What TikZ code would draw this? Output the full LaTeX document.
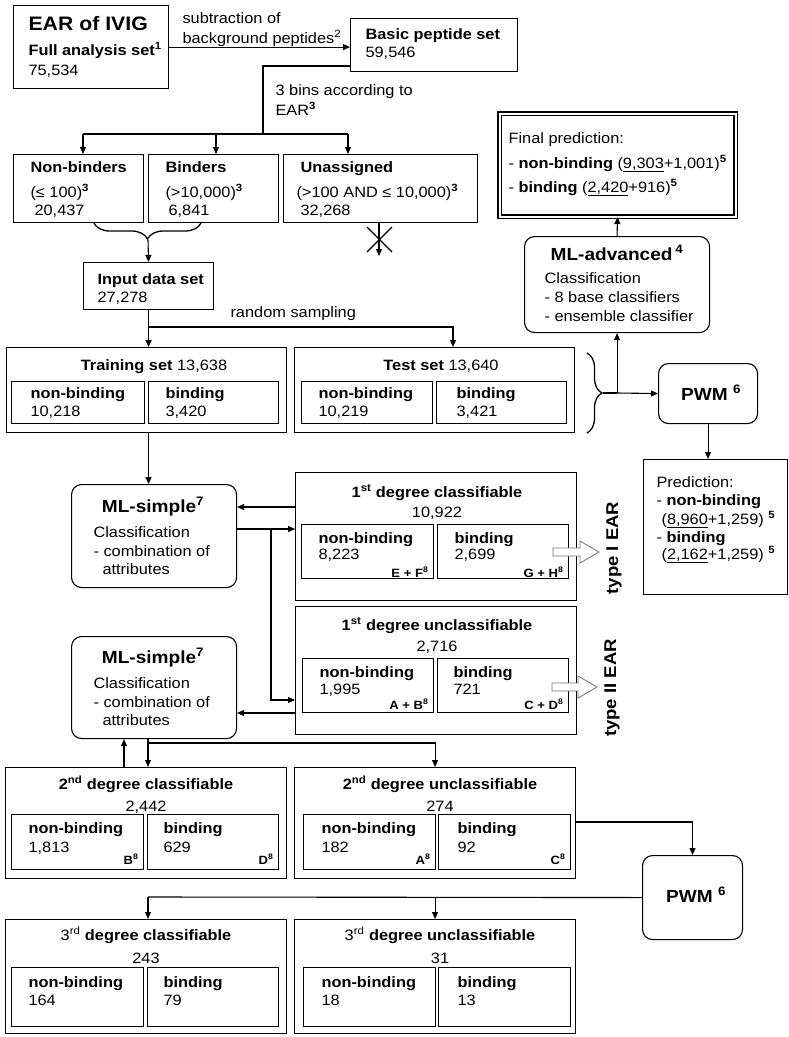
\documentclass[tikz,border=0pt]{standalone}
\usepackage{fontspec}
\setmainfont{Liberation Sans}[FakeStretch=1.09]
\usetikzlibrary{arrows.meta,decorations.pathreplacing}
\newcommand{\fn}[1]{\textsuperscript{\bfseries #1}}

\begin{document}
\begin{tikzpicture}[x=1pt, y=-1pt, line width=1.1pt,
  font=\fontsize{15}{18}\selectfont,
  box/.style={draw, inner sep=0pt, anchor=north west},
  rbox/.style={box, rounded corners=10pt},
  arr/.style={-{Triangle[length=7pt,width=6pt]}},
  txt/.style={inner sep=0pt, anchor=base west},
  ctxt/.style={inner sep=0pt, anchor=base},
  lab/.style={inner sep=0pt, anchor=base east, font=\fontsize{12}{14}\selectfont\bfseries},
  head/.style={inner sep=0pt, anchor=base, font=\fontsize{17.5}{20}\selectfont\bfseries},
  hollow/.style={draw=black!55, line width=0.8pt, fill=white},
  brc/.style={decorate, line width=1.3pt}]
\useasboundingbox (0,0) rectangle (789,1037);

% start: full set and basic set
\node[box, minimum width=155pt, minimum height=83pt] (ear) at (13,5) {};
\node[txt, font=\fontsize{19.5}{22}\selectfont\bfseries] (earT) at (28,30) {EAR of IVIG};
\node[txt] (earS) at (28,55) {\textbf{Full analysis set}\fn{1}};
\node[txt] (earN) at (28,75) {75,534};
\node[box, minimum width=167pt, minimum height=53pt] (basic) at (350,18) {};
\node[txt] (basicT) at (365,39) {\textbf{Basic peptide set}};
\node[txt] (basicN) at (365,57) {59,546};
\draw[arr] (ear.east) -- (ear.east -| basic.west);
\node[txt] (sub1) at (182,23) {subtraction of};
\node[txt] (sub2) at (182,43) {background peptides\textsuperscript{2}};

% three bins
\coordinate (sp) at (263,134);
\coordinate (a1) at (83,134);
\coordinate (a2) at (216,134);
\coordinate (a3) at (348,134);
\draw (basic.west |- 0,66) -| (sp);
\draw (a1) -- (a3);
\node[txt] (bins1) at (275,95) {3 bins according to};
\node[txt] (bins2) at (275,115) {EAR\fn{3}};
\node[box, minimum width=130pt, minimum height=68pt] (nonb) at (13,154) {};
\node[box, minimum width=130pt, minimum height=68pt] (bind) at (148,154) {};
\node[box, minimum width=194pt, minimum height=68pt] (unas) at (283,154) {};
\draw[arr] (a1) -- (a1 |- nonb.north);
\draw[arr] (a2) -- (a2 |- bind.north);
\draw[arr] (a3) -- (a3 |- unas.north);
\node[txt] (nonbT) at (30,172) {\textbf{Non-binders}};
\node[txt] (nonbR) at (30,197) {(≤ 100)\fn{3}};
\node[txt] (nonbN) at (34,215) {20,437};
\node[txt] (bindT) at (165,172) {\textbf{Binders}};
\node[txt] (bindR) at (165,197) {(>10,000)\fn{3}};
\node[txt] (bindN) at (168,215) {6,841};
\node[txt] (unasT) at (300,172) {\textbf{Unassigned}};
\node[txt] (unasR) at (296,197) {(>100 AND ≤ 10,000)\fn{3}};
\node[txt] (unasN) at (300,215) {32,268};

% merge and drop
\draw[brc, decoration={brace, mirror, amplitude=16pt}] (94,223) -- (201,223);
\coordinate (bt1) at (148,240);
\coordinate (xend) at (379,256);
\draw[arr] (unas.south -| xend) -- (xend);
\draw (367,227) -- (392,252);
\draw (392,227) -- (367,252);
\node[box, minimum width=130pt, minimum height=47pt] (input) at (83,262) {};
\draw[arr] (bt1) -- (input.north);
\node[txt] (inputT) at (97,284) {\textbf{Input data set}};
\node[txt] (inputN) at (97,302) {27,278};

% training and test
\node[box, minimum width=280pt, minimum height=85pt] (train) at (6,347) {};
\node[box, minimum width=133pt, minimum height=42pt] (trnb) at (11,381) {};
\node[box, minimum width=130pt, minimum height=42pt] (trb) at (148,381) {};
\node[box, minimum width=280pt, minimum height=85pt] (test) at (294,347) {};
\node[box, minimum width=131pt, minimum height=42pt] (tenb) at (301,381) {};
\node[box, minimum width=130pt, minimum height=42pt] (teb) at (436,381) {};
\coordinate (rs) at (148,327);
\draw[arr] (input.south) -- (input.south |- train.north);
\draw[arr] (rs) -| (test.north -| 453,0);
\node[txt] (rsL) at (230,317) {random sampling};
\node[ctxt] (trainT) at (154,370) {\textbf{Training set} 13,638};
\node[txt] (trnbT) at (30,398) {\textbf{non-binding}};
\node[txt] (trnbN) at (30,416) {10,218};
\node[txt] (trbT) at (165,398) {\textbf{binding}};
\node[txt] (trbN) at (165,416) {3,420};
\node[ctxt] (testT) at (441,370) {\textbf{Test set} 13,640};
\node[txt] (tenbT) at (318,398) {\textbf{non-binding}};
\node[txt] (tenbN) at (318,416) {10,219};
\node[txt] (tebT) at (456,398) {\textbf{binding}};
\node[txt] (tebN) at (456,416) {3,421};

% advanced branch
\node[box, double, double distance=2pt, minimum width=236pt, minimum height=103pt] (final) at (499,113) {};
\node[txt] (finalT) at (508,143) {Final prediction:};
\node[txt] (final1) at (508,168) {- \textbf{non-binding} (\underline{9,303}+1,001)\fn{5}};
\node[txt] (final2) at (508,192) {- \textbf{binding} (\underline{2,420}+916)\fn{5}};
\node[rbox, minimum width=185pt, minimum height=96pt] (mladv) at (524,236) {};
\node[head] (mladvT) at (617,260) {ML-advanced\,\fn{4}};
\node[txt] (mladv1) at (544,283) {Classification};
\node[txt] (mladv2) at (544,302) {- 8 base classifiers};
\node[txt] (mladv3) at (544,321) {- ensemble classifier};
\node[rbox, minimum width=99pt, minimum height=60pt] (pwmA) at (658,363) {};
\node[head] (pwmAT) at (711,400) {PWM \fn{6}};
\draw[brc, decoration={brace, amplitude=15pt}] (587,353) -- (587,433);
\coordinate (bt2) at (603,393);
\coordinate (fork) at (mladv.south |- bt2);
\draw (bt2) -- (fork);
\draw[arr] (fork) -- (pwmA.west);
\draw[arr] (fork) -- (mladv.south);
\draw[arr] (mladv.north) -- (final.south);
\node[box, minimum width=144pt, minimum height=135pt] (pred) at (643,459) {};
\draw[arr] (pwmA.south) -- (pwmA.south |- pred.north);
\node[txt] (predT) at (656,487) {Prediction:};
\node[txt] (pred1) at (656,505) {- \textbf{non-binding}};
\node[txt] (pred2) at (661,524) {(\underline{8,960}+1,259) \fn{5}};
\node[txt] (pred3) at (656,542) {- \textbf{binding}};
\node[txt] (pred4) at (661,559) {(\underline{2,162}+1,259) \fn{5}};

% first simple classification
\node[rbox, minimum width=165pt, minimum height=103pt] (mls1) at (71,484) {};
\node[head] (mls1T) at (153,512) {ML-simple\fn{7}};
\node[txt] (mls1a) at (93,537) {Classification};
\node[txt] (mls1b) at (93,556) {- combination of};
\node[txt] (mls1c) at (102,574) {attributes};
\draw[arr] (train.south -| input.south) -- (mls1.north -| input.south);
\node[box, minimum width=281pt, minimum height=128pt] (cls1) at (295,472) {};
\node[box, minimum width=132pt, minimum height=54pt] (c1nb) at (301,524) {};
\node[box, minimum width=131pt, minimum height=54pt] (c1b) at (437,524) {};
\node[ctxt] (cls1T) at (437,497) {\textbf{1\textsuperscript{st} degree classifiable}};
\node[ctxt] (cls1N) at (437,517) {10,922};
\node[txt] (c1nbT) at (318,543) {\textbf{non-binding}};
\node[txt] (c1nbN) at (318,559) {8,223};
\node[lab] (c1nbL) at (429,577) {E + F\textsuperscript{8}};
\node[txt] (c1bT) at (454,543) {\textbf{binding}};
\node[txt] (c1bN) at (454,559) {2,699};
\node[lab] (c1bL) at (564,577) {G + H\textsuperscript{8}};
\draw[hollow] (553,548) -- (580,548) -- (580,541) -- (599,552) -- (580,563) -- (580,556) -- (553,556) -- cycle;
\node[rotate=90, font=\fontsize{17}{20}\selectfont\bfseries] (typeI) at (614,548) {type I EAR};

\node[box, minimum width=281pt, minimum height=128pt] (cls2) at (295,606) {};
\node[box, minimum width=131pt, minimum height=54pt] (c2nb) at (302,658) {};
\node[box, minimum width=131pt, minimum height=54pt] (c2b) at (437,658) {};
\node[ctxt] (cls2T) at (437,630) {\textbf{1\textsuperscript{st} degree unclassifiable}};
\node[ctxt] (cls2N) at (437,651) {2,716};
\node[txt] (c2nbT) at (319,677) {\textbf{non-binding}};
\node[txt] (c2nbN) at (319,694) {1,995};
\node[lab] (c2nbL) at (429,709) {A + B\textsuperscript{8}};
\node[txt] (c2bT) at (453,677) {\textbf{binding}};
\node[txt] (c2bN) at (453,694) {721};
\node[lab] (c2bL) at (564,709) {C + D\textsuperscript{8}};
\draw[hollow] (552,683) -- (578,683) -- (578,676) -- (597,687) -- (578,698) -- (578,691) -- (552,691) -- cycle;
\node[rotate=90, font=\fontsize{17}{20}\selectfont\bfseries] (typeII) at (612,688) {type II EAR};

% second simple classification
\node[rbox, minimum width=165pt, minimum height=102pt] (mls2) at (71,636) {};
\node[head] (mls2T) at (153,663) {ML-simple\fn{7}};
\node[txt] (mls2a) at (93,688) {Classification};
\node[txt] (mls2b) at (93,707) {- combination of};
\node[txt] (mls2c) at (102,725) {attributes};
\coordinate (br1) at (271,529);
\draw[arr] (cls1.west |- 0,507) -- (mls1.east |- 0,507);
\draw[arr] (mls1.east |- br1) -- (cls1.west |- br1);
\draw[arr] (br1) |- (cls2.west |- 0,700);
\draw[arr] (cls2.west |- 0,713) -- (mls2.east |- 0,713);

% second degree
\node[box, minimum width=281pt, minimum height=111pt] (cls3) at (5,767) {};
\node[box, minimum width=132pt, minimum height=55pt] (c3nb) at (11,814) {};
\node[box, minimum width=131pt, minimum height=55pt] (c3b) at (147,814) {};
\node[box, minimum width=281pt, minimum height=111pt] (ucl3) at (294,767) {};
\node[box, minimum width=132pt, minimum height=55pt] (u3nb) at (303,814) {};
\node[box, minimum width=132pt, minimum height=55pt] (u3b) at (438,814) {};
\coordinate (br2) at (148,743);
\draw[arr] (cls3.north -| 124,0) -- (mls2.south -| 124,0);
\draw[arr] (mls2.south -| br2) -- (cls3.north -| br2);
\draw[arr] (br2) -| (ucl3.north);
\node[ctxt] (cls3T) at (146,789) {\textbf{2\textsuperscript{nd} degree classifiable}};
\node[ctxt] (cls3N) at (146,811) {2,442};
\node[txt] (c3nbT) at (28,833) {\textbf{non-binding}};
\node[txt] (c3nbN) at (28,852) {1,813};
\node[lab] (c3nbL) at (139,864) {B\textsuperscript{8}};
\node[txt] (c3bT) at (163,833) {\textbf{binding}};
\node[txt] (c3bN) at (163,852) {629};
\node[lab] (c3bL) at (274,864) {D\textsuperscript{8}};
\node[ctxt] (ucl3T) at (440,789) {\textbf{2\textsuperscript{nd} degree unclassifiable}};
\node[ctxt] (ucl3N) at (440,811) {274};
\node[txt] (u3nbT) at (321,833) {\textbf{non-binding}};
\node[txt] (u3nbN) at (321,852) {182};
\node[lab] (u3nbL) at (431,864) {A\textsuperscript{8}};
\node[txt] (u3bT) at (457,833) {\textbf{binding}};
\node[txt] (u3bN) at (457,852) {92};
\node[lab] (u3bL) at (566,864) {C\textsuperscript{8}};

% PWM on the rest
\node[rbox, minimum width=100pt, minimum height=84pt] (pwmB) at (642,855) {};
\node[head] (pwmBT) at (696,902) {PWM \fn{6}};
\draw[arr] (ucl3.east |- 0,822) -| (pwmB.north);
\coordinate (br3) at (148,897);
\node[box, minimum width=281pt, minimum height=114pt] (cls4) at (5,919) {};
\node[box, minimum width=132pt, minimum height=59pt] (c4nb) at (11,967) {};
\node[box, minimum width=131pt, minimum height=59pt] (c4b) at (147,967) {};
\node[box, minimum width=281pt, minimum height=114pt] (ucl4) at (294,919) {};
\node[box, minimum width=132pt, minimum height=59pt] (u4nb) at (303,967) {};
\node[box, minimum width=132pt, minimum height=59pt] (u4b) at (438,967) {};
\draw (pwmB.west) -- (br3);
\draw[arr] (br3) -- (br3 |- cls4.north);
\draw[arr] (br3 -| ucl4.north) -- (ucl4.north);
\node[ctxt] (cls4T) at (146,940) {3\textsuperscript{rd} \textbf{degree classifiable}};
\node[ctxt] (cls4N) at (146,963) {243};
\node[txt] (c4nbT) at (28,987) {\textbf{non-binding}};
\node[txt] (c4nbN) at (28,1005) {164};
\node[txt] (c4bT) at (163,987) {\textbf{binding}};
\node[txt] (c4bN) at (163,1005) {79};
\node[ctxt] (ucl4T) at (440,940) {3\textsuperscript{rd} \textbf{degree unclassifiable}};
\node[ctxt] (ucl4N) at (440,963) {31};
\node[txt] (u4nbT) at (321,987) {\textbf{non-binding}};
\node[txt] (u4nbN) at (321,1005) {18};
\node[txt] (u4bT) at (457,987) {\textbf{binding}};
\node[txt] (u4bN) at (457,1005) {13};
\end{tikzpicture}
\end{document}
